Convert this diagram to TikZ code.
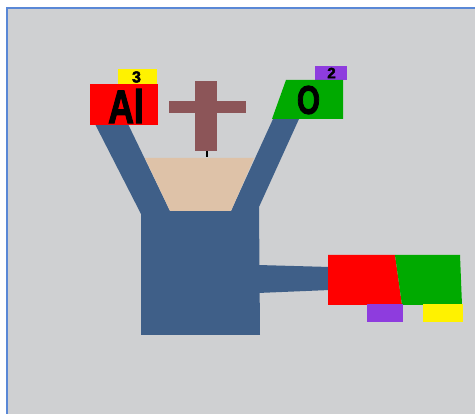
\documentclass[tikz,border=0pt]{standalone}
\usepackage{fontspec}
\setmainfont{Liberation Sans}
\newfontfamily\heavyfont[FakeBold=2.5]{Liberation Sans Bold}
\definecolor{bg}{HTML}{CFD0D2}
\definecolor{frame}{HTML}{5A88D6}
\definecolor{steel}{HTML}{3F5F88}
\definecolor{sand}{HTML}{DEC2A8}
\definecolor{crossc}{HTML}{8C5558}
\definecolor{redc}{HTML}{FF0000}
\definecolor{greenc}{HTML}{00AA00}
\definecolor{yellowc}{HTML}{FFF200}
\definecolor{purplec}{HTML}{8E3CDE}
\tikzset{
  bigsym/.style={text=black, inner sep=0pt, anchor=center},
}
\begin{document}
\begin{tikzpicture}[x=1pt,y=-1pt]
\useasboundingbox (0,0) rectangle (475,414);
\fill[white] (0,0) rectangle (475,414);
\fill[bg] (7,8) rectangle (475,414);
\draw[frame, line width=1.5pt] (475,8) -- (6.8,8) -- (6.8,414);
% vessel
\fill[steel] (95,124) -- (128,124) -- (170,211) -- (231,211) -- (273,119) -- (299,119)
  -- (259,207) -- (260,335) -- (141,335) -- (141,214) -- cycle;
\fill[sand] (145,158) -- (254,158) -- (231,211) -- (170,211) -- cycle;
% pipe
\fill[steel] (258,265) -- (330,267) -- (330,290) -- (258,293) -- cycle;
% cross
\fill[crossc] (195,81) rectangle (217,151);
\fill[crossc] (169,101) rectangle (246,113);
\draw[black, line width=1.3pt] (207,151) -- (207,157);
% Al
\fill[yellowc] (118,69) rectangle (157,84);
\fill[redc] (90,84) rectangle (158,125);
\node[bigsym, font=\fontsize{47}{47}\selectfont\heavyfont, xscale=0.76] (al) at (126,106) {Al};
\node[bigsym, font=\fontsize{16}{16}\selectfont\heavyfont] (three) at (136.5,77) {3};
% O
\fill[purplec] (315,66) rectangle (347,80);
\fill[greenc] (286,80) -- (343,80) -- (343,119) -- (272,119) -- cycle;
\node[bigsym, font=\fontsize{40}{40}\selectfont\heavyfont, xscale=0.74] (o) at (308.5,100) {O};
\node[bigsym, font=\fontsize{15}{15}\selectfont\heavyfont] (two) at (331.5,73) {2};
% product
\fill[redc] (328,255) -- (395,255) -- (402,305) -- (328,305) -- cycle;
\fill[greenc] (395,255) -- (460,255) -- (462,305) -- (402,305) -- cycle;
\fill[purplec] (367,304) rectangle (403,322);
\fill[yellowc] (423,304) rectangle (463,322);
\end{tikzpicture}
\end{document}
